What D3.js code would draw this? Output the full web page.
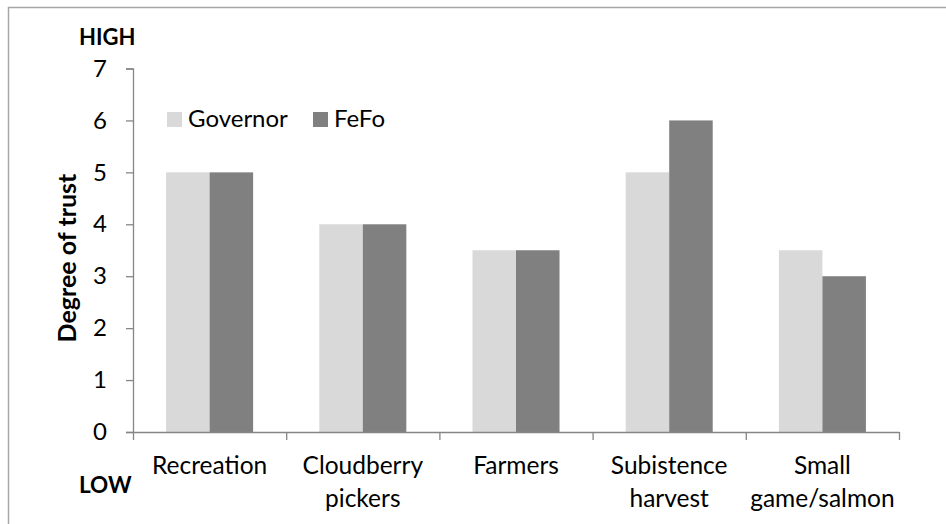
<!DOCTYPE html>
<html>
<head>
<meta charset="utf-8">
<script src="https://cdn.jsdelivr.net/npm/d3@7"></script>
<style>
  html, body { margin: 0; padding: 0; background: #fff; }
  svg { display: block; }
  text { font-family: Lato, "Open Sans", sans-serif; fill: #000; }
</style>
</head>
<body>
<svg id="chart" width="946" height="524"></svg>
<script>
// Trust levels per user group, 0 (low) to 7 (high)
const categories = [
  ["Recreation"],
  ["Cloudberry", "pickers"],
  ["Farmers"],
  ["Subistence", "harvest"],
  ["Small", "game/salmon"]
];
const seriesNames = ["Governor", "FeFo"];
const governor = [5, 4, 3.5, 5, 3.5];
const fefo = [5, 4, 3.5, 6, 3];
const yTicks = [0, 1, 2, 3, 4, 5, 6, 7];
const colors = ["#d9d9d9", "#808080"];

const svg = d3.select("#chart");
const W = 946, H = 524;
const margin = { left: 133, right: 47, top: 68.5, bottom: 92 };
const plotW = W - margin.left - margin.right;
const plotH = H - margin.top - margin.bottom;

// frame: top and left edges of the chart area
svg.append("path")
  .attr("d", `M8.5,${H} V7.5 H${W}`)
  .attr("fill", "none")
  .attr("stroke", "#a6a6a6")
  .attr("stroke-width", 1.5);

const keys = categories.map(c => c.join(" "));
const rows = keys.map((k, i) => ({ key: k, lines: categories[i], values: [governor[i], fefo[i]] }));

const x0 = d3.scaleBand().domain(keys).range([0, plotW]).paddingInner(0).paddingOuter(0);
const x1 = d3.scaleBand().domain(seriesNames).range([0, x0.bandwidth()]).paddingInner(0).paddingOuter(0.76);
const y = d3.scaleLinear().domain([0, 7]).range([plotH, 0]);

const g = svg.append("g").attr("transform", `translate(${margin.left},${margin.top})`);

// bars
g.selectAll("g.group")
  .data(rows)
  .join("g")
  .attr("class", "group")
  .attr("transform", d => `translate(${x0(d.key)},0)`)
  .selectAll("rect")
  .data(d => d.values.map((v, i) => ({ name: seriesNames[i], v, i })))
  .join("rect")
  .attr("x", d => x1(d.name))
  .attr("width", x1.bandwidth())
  .attr("y", d => y(d.v))
  .attr("height", d => y(0) - y(d.v))
  .attr("fill", d => colors[d.i]);

const axisColor = "#868686";

// y axis
const yAxis = g.append("g")
  .call(d3.axisLeft(y).tickValues(yTicks).tickSize(7).tickPadding(19).tickFormat(d3.format("d")));
yAxis.select(".domain").attr("stroke", axisColor).attr("stroke-width", 1.3);
yAxis.selectAll(".tick line").attr("stroke", axisColor).attr("stroke-width", 1.3);
yAxis.selectAll(".tick text")
  .attr("font-size", 24)
  .attr("font-family", "Lato, 'Open Sans', sans-serif")
  .attr("fill", "#000");

// x axis: ticks sit on category boundaries
const boundaries = d3.range(keys.length + 1).map(i => i * x0.step());
const xScaleLin = d3.scaleLinear().domain([0, plotW]).range([0, plotW]);
const xAxis = g.append("g")
  .attr("transform", `translate(0,${plotH})`)
  .call(d3.axisBottom(xScaleLin).tickValues(boundaries).tickSize(8).tickSizeOuter(0).tickFormat(""));
xAxis.select(".domain").attr("stroke", axisColor).attr("stroke-width", 1.3);
xAxis.selectAll(".tick line").attr("stroke", axisColor).attr("stroke-width", 1.3);

// category labels
const catLabels = g.append("g").attr("transform", `translate(0,${plotH})`);
catLabels.selectAll("text")
  .data(rows)
  .join("text")
  .attr("x", d => x0(d.key) + x0.bandwidth() / 2)
  .attr("y", 42)
  .attr("text-anchor", "middle")
  .attr("font-size", 24.5)
  .selectAll("tspan")
  .data(d => d.lines.map((l, i) => ({ l, i, cx: x0(d.key) + x0.bandwidth() / 2 })))
  .join("tspan")
  .attr("x", d => d.cx)
  .attr("dy", d => d.i === 0 ? 0 : 33)
  .text(d => d.l);

// axis title
svg.append("text")
  .attr("transform", "translate(76,258) rotate(-90)")
  .attr("text-anchor", "middle")
  .attr("font-size", 25)
  .attr("font-weight", "bold")
  .text("Degree of trust");

// scale end markers
svg.append("text")
  .attr("x", 79).attr("y", 45)
  .attr("font-size", 22)
  .attr("font-weight", "bold")
  .text("HIGH");
svg.append("text")
  .attr("x", 79).attr("y", 493)
  .attr("font-size", 22.5)
  .attr("font-weight", "bold")
  .text("LOW");

// legend
const legend = svg.append("g").attr("transform", "translate(167,112)");
const legendX = [0, 146];
const items = legend.selectAll("g")
  .data(seriesNames)
  .join("g")
  .attr("transform", (d, i) => `translate(${legendX[i]},0)`);
items.append("rect")
  .attr("width", 15).attr("height", 15)
  .attr("fill", (d, i) => colors[i]);
items.append("text")
  .attr("x", 21).attr("y", 15)
  .attr("font-size", 24)
  .text(d => d);
</script>
</body>
</html>
